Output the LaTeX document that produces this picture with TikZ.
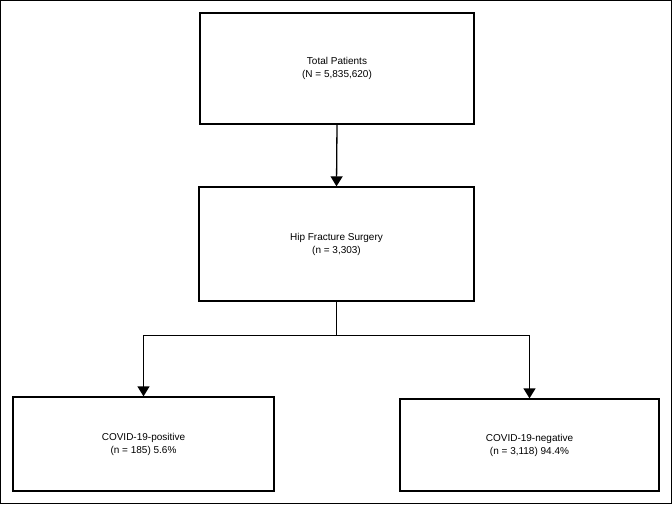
\documentclass[tikz,border=0pt]{standalone}
\usepackage{fontspec}
\setmainfont{Liberation Sans}
\usetikzlibrary{arrows.meta}
\usetikzlibrary{calc}
\tikzset{
  >={Triangle[width=12pt,length=10pt]},
  frameline/.style={draw=black,line width=1.0pt},
  medline/.style={draw=black,line width=1.3pt},
  medlinep/.style={draw=black,line width=1.3pt,->},
  stagebox/.style={draw=black,line width=1.3pt,rectangle,align=center,
    inner sep=0pt,font=\fontsize{10}{13}\selectfont}
}
\begin{document}
\begin{tikzpicture}[x=1pt,y=-1pt]
  \draw (0.5,0.5) rectangle (671.5,503.5) [frameline];
  \useasboundingbox (0,0) rectangle (672,504);
  \node (total) at (337,68.5) [stagebox,minimum width=274pt,minimum height=111pt]
    {Total Patients\\(N = 5,835,620)};
  \node (hip) at (336.5,244) [stagebox,minimum width=275pt,minimum height=114pt]
    {Hip Fracture Surgery\\(n = 3,303)};
  \node (pos) at (143.5,444) [stagebox,minimum width=261pt,minimum height=94pt]
    {COVID-19-positive\\(n = 185) 5.6\%};
  \node (neg) at (529.5,445) [stagebox,minimum width=259pt,minimum height=92pt]
    {COVID-19-negative\\(n = 3,118) 94.4\%};
  \coordinate (SPLIT) at ($(hip.south)+(0,34)$);
  \draw (total.south) -- (hip.north) [medlinep];
  \draw (hip.south) -- (SPLIT) [medline];
  \draw (SPLIT) -| (pos.north) [medlinep];
  \draw (SPLIT) -| (neg.north) [medlinep];
\end{tikzpicture}
\end{document}
